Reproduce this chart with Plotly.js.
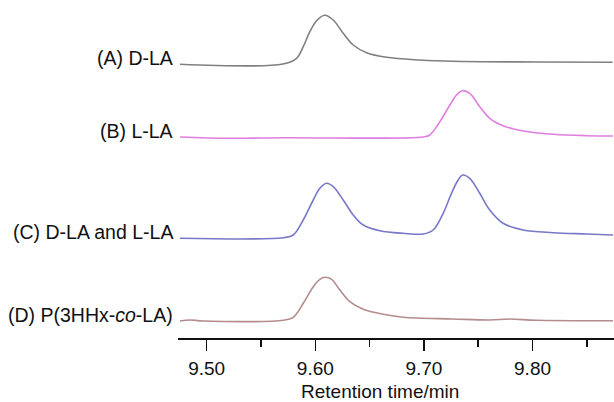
<!DOCTYPE html>
<html>
<head>
<meta charset="utf-8">
<script src="https://cdn.plot.ly/plotly-3.0.1.min.js"></script>
<style>
html,body{margin:0;padding:0;background:#fff;}
#chart{width:614px;height:402px;}
</style>
</head>
<body>
<div id="chart"></div>
<script>
// Sample names (labels shown to the left of each trace)
const sampleLabels = ["(A) D-LA", "(B) L-LA", "(C) D-LA and L-LA", "(D) P(3HHx-<i>co</i>-LA)"];

// Trace A: D-LA
const timeA = [9.4754, 9.5702, 9.5828, 9.5889, 9.5950, 9.6012, 9.6088, 9.6165, 9.6257, 9.6349, 9.6472, 9.6656, 9.6962, 9.7266, 9.8036, 9.8738];
const signalA = [0, 0.3, 6, 17.6, 32.6, 43.6, 49, 44.3, 31, 19.3, 11.6, 7, 4.3, 3, 2.3, 2];

// Trace B: L-LA
const timeB = [9.4754, 9.5199, 9.5720, 9.6993, 9.7054, 9.7147, 9.7239, 9.7300, 9.7355, 9.7422, 9.7514, 9.7606, 9.7729, 9.7913, 9.8189, 9.8496, 9.8741];
const signalB = [0, -1.3, -0.7, 0, 2, 15.3, 32, 42, 46.3, 43.7, 30.3, 18.7, 11.3, 6, 2.7, 1.3, 1];

// Trace C: D-LA and L-LA
const timeC = [9.4754, 9.5705, 9.5797, 9.5889, 9.5981, 9.6042, 9.6104, 9.6165, 9.6257, 9.6349, 9.6441, 9.6594, 9.6809, 9.6993, 9.7085, 9.7177, 9.7254, 9.7315, 9.7355, 9.7422, 9.7514, 9.7606, 9.7729, 9.7913, 9.8189, 9.8496, 9.8741];
const signalC = [0, 0.6, 3.3, 18.3, 38.3, 50, 55, 51.6, 38.3, 23.3, 13.3, 7.6, 5, 4.3, 8.3, 25, 45, 58.3, 63.3, 60, 45, 28.3, 15, 8.3, 5.6, 4.3, 3.3];

// Trace D: P(3HHx-co-LA)
const timeD = [9.4754, 9.4846, 9.4969, 9.5705, 9.5797, 9.5889, 9.5981, 9.6042, 9.6088, 9.6150, 9.6226, 9.6318, 9.6441, 9.6625, 9.6809, 9.7269, 9.7606, 9.7790, 9.8036, 9.8741];
const signalD = [0, 1, 0, 0.7, 3.7, 17.7, 34.3, 41.7, 43.7, 41.7, 31, 19.3, 11.7, 6.7, 3.7, 2, 1, 2, 0.7, 0.3];

// Vertical stacking offsets for each chromatogram
const offsets = [273.7, 201, 99.7, 17];
const colors = ["#808080", "#e07ee0", "#7878c8", "#b48c8c"];

const times = [timeA, timeB, timeC, timeD];
const signals = [signalA, signalB, signalC, signalD];

const traces = times.map((t, i) => ({
  x: t,
  y: signals[i].map(v => v + offsets[i]),
  type: "scatter",
  mode: "lines",
  line: {color: colors[i], width: 1.6, shape: "spline", smoothing: 1},
  hoverinfo: "skip",
  showlegend: false
}));

const FONT = "Liberation Sans, Arial, sans-serif";

const labelAnnotations = sampleLabels.map((txt, i) => ({
  text: txt,
  xref: "paper", x: 0, xanchor: "right", xshift: -3,
  yref: "y", y: offsets[i], yanchor: "middle", yshift: 6,
  showarrow: false,
  font: {family: FONT, size: 19.5, color: "#111"}
}));

labelAnnotations.push({
  text: "Retention time/min",
  xref: "paper", x: 0.463, xanchor: "center",
  yref: "paper", y: 0, yanchor: "top", yshift: -41,
  showarrow: false,
  font: {family: FONT, size: 19, color: "#111"}
});

const layout = {
  width: 614, height: 402,
  margin: {l: 178, r: 0, t: 5, b: 64},
  paper_bgcolor: "#fff", plot_bgcolor: "#fff",
  font: {family: FONT, size: 19, color: "#111"},
  xaxis: {
    range: [9.4736, 9.875],
    showgrid: false, zeroline: false,
    showline: true, linecolor: "#111", linewidth: 2,
    ticks: "outside", ticklen: 11, tickwidth: 1.5, tickcolor: "#111",
    dtick: 0.1, tick0: 9.5, tickformat: ".2f",
    ticklabelstandoff: 1,
    tickfont: {size: 19, color: "#111"},
    minor: {dtick: 0.05, tick0: 9.5, ticks: "outside", ticklen: 7, tickwidth: 1.5, tickcolor: "#111"},
    fixedrange: true
  },
  yaxis: {
    range: [0, 333],
    visible: false,
    fixedrange: true
  },
  annotations: labelAnnotations
};

Plotly.newPlot("chart", traces, layout, {displayModeBar: false, staticPlot: true});
</script>
</body>
</html>
